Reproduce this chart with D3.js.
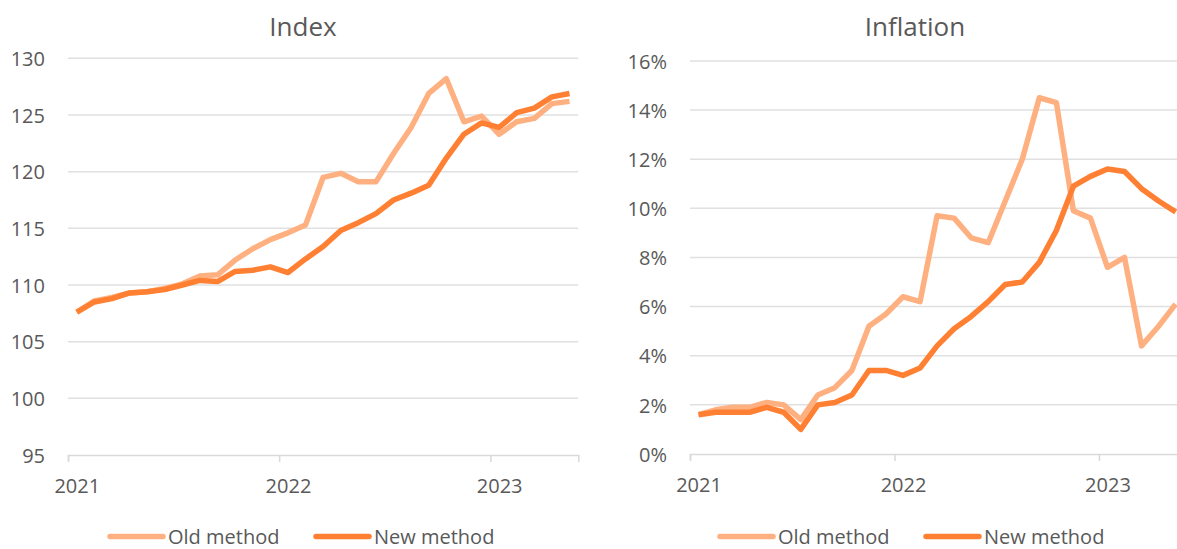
<!DOCTYPE html>
<html lang="en">
<head>
<meta charset="UTF-8">
<title>Index and inflation</title>
<script src="https://d3js.org/d3.v7.min.js"></script>
<style>
  body { margin: 0; background: #fff; }
  text { font-family: "Open Sans", sans-serif; fill: #595959; }
</style>
</head>
<body>
<script>
// monthly observations, Jan 2021 - May 2023
const months = [
  "2021-01","2021-02","2021-03","2021-04","2021-05","2021-06","2021-07","2021-08","2021-09","2021-10","2021-11","2021-12",
  "2022-01","2022-02","2022-03","2022-04","2022-05","2022-06","2022-07","2022-08","2022-09","2022-10","2022-11","2022-12",
  "2023-01","2023-02","2023-03","2023-04","2023-05"
];
const indexOld = [107.6, 108.6, 108.9, 109.3, 109.4, 109.7, 110.1, 110.8, 110.9, 112.2, 113.2, 114.0,
  114.6, 115.3, 119.5, 119.85, 119.1, 119.1, 121.6, 123.9, 126.9, 128.2, 124.4, 124.9,
  123.3, 124.4, 124.7, 126.0, 126.2];
const indexNew = [107.6, 108.5, 108.8, 109.3, 109.4, 109.6, 110.0, 110.4, 110.3, 111.2, 111.3, 111.6,
  111.1, 112.3, 113.4, 114.8, 115.5, 116.3, 117.5, 118.1, 118.8, 121.2, 123.3, 124.3,
  123.9, 125.2, 125.6, 126.6, 126.9];
const inflOld = [1.6, 1.8, 1.9, 1.9, 2.1, 2.0, 1.4, 2.4, 2.7, 3.4, 5.2, 5.7,
  6.4, 6.2, 9.7, 9.6, 8.8, 8.6, 10.3, 12.0, 14.5, 14.3, 9.9, 9.6,
  7.6, 8.0, 4.4, 5.2, 6.1];
const inflNew = [1.6, 1.7, 1.7, 1.7, 1.9, 1.7, 1.0, 2.0, 2.1, 2.4, 3.4, 3.4,
  3.2, 3.5, 4.4, 5.1, 5.6, 6.2, 6.9, 7.0, 7.8, 9.1, 10.9, 11.3,
  11.6, 11.5, 10.8, 10.3, 9.85];
const indexTicks = [95, 100, 105, 110, 115, 120, 125, 130];
const inflTicks = [0, 2, 4, 6, 8, 10, 12, 14, 16];
const seriesNames = ["Old method", "New method"];
const colors = ["#ffb080", "#ff8033"];

const W = 1177, H = 549;
const svg = d3.select("body").append("svg")
  .attr("width", W)
  .attr("height", H);

function panel(cfg) {
  const g = svg.append("g");
  const x = d3.scaleLinear().domain([0, months.length]).range(cfg.xRange);
  const y = d3.scaleLinear().domain(d3.extent(cfg.ticks)).range(cfg.yRange);
  const half = (x(1) - x(0)) / 2;

  // gridlines
  g.selectAll(".grid").data(cfg.ticks.slice(1)).enter().append("line")
    .attr("x1", cfg.xRange[0]).attr("x2", cfg.xRange[1])
    .attr("y1", d => y(d)).attr("y2", d => y(d))
    .attr("stroke", "#e0e0e0").attr("stroke-width", 1.5);

  // y labels
  const ya = g.append("g")
    .attr("transform", `translate(${cfg.xRange[0]},0)`)
    .call(d3.axisLeft(y).tickValues(cfg.ticks).tickSize(0).tickPadding(23).tickFormat(cfg.fmt));
  ya.select(".domain").remove();
  ya.selectAll("text").attr("font-size", 20).attr("dy", "0.36em")
    .style("font-family", '"Open Sans", sans-serif').attr("fill", "#595959");

  // x axis, one tick per January
  const yearIdx = months.map((m, i) => m.endsWith("-01") ? i : -1).filter(i => i >= 0);
  const xa = g.append("g")
    .attr("transform", `translate(0,${cfg.yRange[0]})`)
    .call(d3.axisBottom(x).tickValues(yearIdx).tickSize(7).tickFormat(i => months[i].slice(0, 4)));
  xa.select(".domain").attr("stroke", "#d9d9d9").attr("stroke-width", 1.5);
  xa.selectAll("line").attr("stroke", "#d9d9d9").attr("stroke-width", 1.5);
  xa.selectAll("text").attr("x", half).attr("y", 38).attr("dy", 0).attr("font-size", 20)
    .style("font-family", '"Open Sans", sans-serif').attr("fill", "#595959");

  // lines
  const line = d3.line().x((d, i) => x(i + 0.5)).y(d => y(d));
  cfg.series.forEach((s, k) => {
    g.append("path").datum(s)
      .attr("d", line)
      .attr("fill", "none")
      .attr("stroke", colors[k])
      .attr("stroke-width", 5.5)
      .attr("stroke-linejoin", "round");
  });

  // title
  g.append("text").attr("x", cfg.titleX).attr("y", 36)
    .attr("text-anchor", "middle").attr("font-size", 26).text(cfg.title);

  // legend
  seriesNames.forEach((name, k) => {
    const lx = cfg.legendX + k * 206;
    g.append("line").attr("x1", lx).attr("x2", lx + 53).attr("y1", 536.5).attr("y2", 536.5)
      .attr("stroke", colors[k]).attr("stroke-width", 5.5).attr("stroke-linecap", "round");
    g.append("text").attr("x", lx + 58).attr("y", 543.5).attr("font-size", 20).text(name);
  });
}

panel({
  title: "Index", titleX: 303,
  xRange: [68, 578.3], yRange: [455, 58.3],
  ticks: indexTicks, fmt: d => d,
  series: [indexOld, indexNew], legendX: 110
});

panel({
  title: "Inflation", titleX: 915,
  xRange: [690, 690 + 29 * 17.04], yRange: [454, 60.9],
  ticks: inflTicks, fmt: d => d + "%",
  series: [inflOld, inflNew], legendX: 720
});
</script>
</body>
</html>
